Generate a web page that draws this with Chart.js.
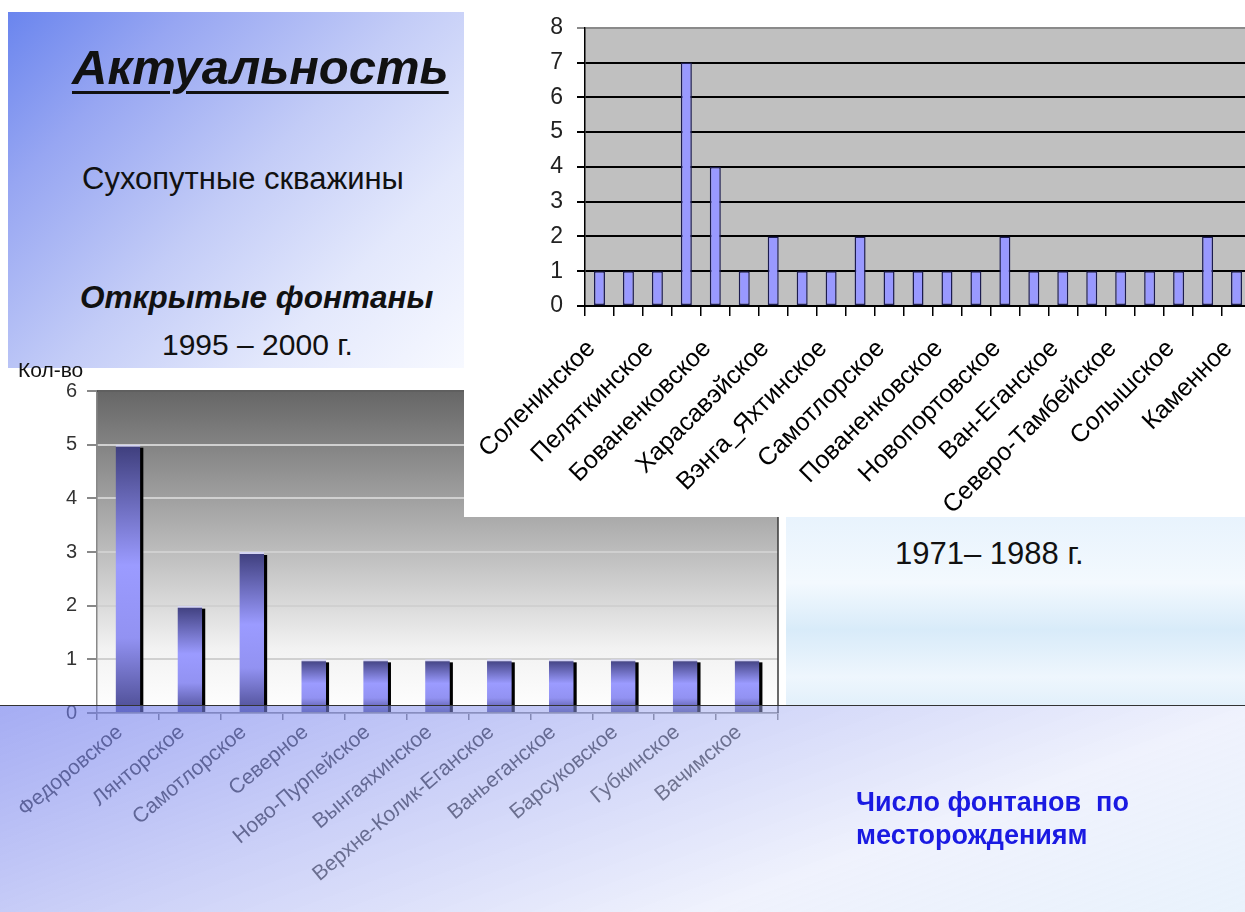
<!DOCTYPE html>
<html>
<head>
<meta charset="utf-8">
<script src="https://cdn.jsdelivr.net/npm/chart.js@4.4.1/dist/chart.umd.min.js"></script>
<style>
  html, body { margin: 0; padding: 0; width: 1245px; height: 912px; overflow: hidden; background: #fff; font-family: 'Liberation Sans', Arial, sans-serif; }
  .abs { position: absolute; }
  #intro { left: 8px; top: 12px; width: 456px; height: 356px; background: linear-gradient(135deg, #6a85ee 0%, #97a6f2 22%, #c3ccf7 50%, #e3e8fc 75%, #f7f9ff 100%); }
  .t { position: absolute; white-space: nowrap; line-height: 1; color: #111; }
  #panel { left: 786px; top: 517px; width: 459px; height: 188px; background: linear-gradient(180deg, #e8f3fd 0%, #f3f9fe 35%, #d8ebf9 60%, #eef6fd 85%, #e2f0fb 100%); }
  #bottomBox { left: 0; top: 368px; width: 786px; height: 544px; background: #fff; }
  #topBox { left: 464px; top: 0; width: 781px; height: 517px; background: #fff; overflow: hidden; }
  #band { left: 0; top: 705px; width: 1245px; height: 207px; border-top: 1.5px solid #333; box-sizing: border-box;
          background: linear-gradient(160deg, rgba(110,122,236,0.62) 0%, rgba(150,160,240,0.5) 35%, rgba(220,226,250,0.45) 70%, rgba(215,232,250,0.55) 100%); }
</style>
</head>
<body>
<div id="intro" class="abs">
  <div class="t" style="left:64px; top:31px; font-size:49px; font-weight:bold; font-style:italic; text-decoration:underline; text-decoration-thickness:3px; text-underline-offset:7px;">Актуальность</div>
  <div class="t" style="left:74px; top:151px; font-size:31px;">Сухопутные скважины</div>
  <div class="t" style="left:72px; top:270px; font-size:31.5px; font-weight:bold; font-style:italic;">Открытые фонтаны</div>
  <div class="t" style="left:154px; top:318px; font-size:30px;">1995 – 2000 г.</div>
</div>
<div id="panel" class="abs">
  <div class="t" style="left:109px; top:21px; font-size:31px;">1971– 1988 г.</div>
</div>
<div id="bottomBox" class="abs"><canvas id="chartBottom" width="786" height="544"></canvas></div>
<div id="topBox" class="abs"><canvas id="chartTop" width="812" height="517"></canvas></div>
<div class="t" style="left:18px; top:359px; font-size:21px; z-index:5;">Кол-во</div>
<div id="band" class="abs"></div>
<div class="t" style="left:856px; top:786px; font-size:27px; font-weight:bold; color:#1a1ae2; line-height:33px; z-index:6;">Число фонтанов&nbsp; по<br>месторождениям</div>

<script>
// 1971-1988: gushers by field (only every other name is printed on the slide)
const topFields = ['Соленинское', '', 'Пеляткинское', '', 'Бованенковское', '', 'Харасавэйское', '',
  'Вэнга_Яхтинское', '', 'Самотлорское', '', 'Пованенковское', '', 'Новопортовское', '',
  'Ван-Еганское', '', 'Северо-Тамбейское', '', 'Солышское', '', 'Каменное'];
const topCounts = [1, 1, 1, 7, 4, 1, 2, 1, 1, 2, 1, 1, 1, 1, 2, 1, 1, 1, 1, 1, 1, 2, 1];
const topMax = 8;

// 1995-2000
const bottomFields = ['Федоровское', 'Лянторское', 'Самотлорское', 'Северное', 'Ново-Пурпейское',
  'Вынгаяхинское', 'Верхне-Колик-Еганское', 'Ваньеганское', 'Барсуковское', 'Губкинское', 'Вачимское'];
const bottomCounts = [5, 2, 3, 1, 1, 1, 1, 1, 1, 1, 1];
const bottomMax = 6;

const FONT = "'Liberation Sans', Arial, sans-serif";

// plot area fill
const plotBg = {
  id: 'plotBg',
  beforeDraw(chart, args, opts) {
    const a = chart.chartArea, c = chart.ctx;
    c.save();
    if (opts.gradient) {
      const g = c.createLinearGradient(0, a.top, 0, a.bottom);
      g.addColorStop(0, '#666666');
      g.addColorStop(0.45, '#b4b4b4');
      g.addColorStop(0.8, '#f2f2f2');
      g.addColorStop(1, '#ffffff');
      c.fillStyle = g;
    } else {
      c.fillStyle = opts.color || '#c0c0c0';
    }
    c.fillRect(a.left, a.top, a.right - a.left, a.bottom - a.top);
    c.restore();
  },
  afterDraw(chart, args, opts) {
    if (!opts.frame) return;
    const a = chart.chartArea, c = chart.ctx;
    c.save();
    c.strokeStyle = opts.frame;
    c.lineWidth = 1.5;
    c.beginPath();
    c.moveTo(a.left, a.top);
    c.lineTo(a.right, a.top);
    c.lineTo(a.right, a.bottom);
    c.stroke();
    c.restore();
  }
};

// hard black shadow on the right of each bar of the lower chart
const barShadow = {
  id: 'barShadow',
  beforeDatasetsDraw(chart, args, opts) {
    if (!opts.on) return;
    const c = chart.ctx;
    const meta = chart.getDatasetMeta(0);
    c.save();
    c.fillStyle = '#000';
    meta.data.forEach(bar => {
      const p = bar.getProps(['x', 'y', 'width', 'base'], true);
      c.fillRect(p.x + p.width / 2 - 1, p.y + 3, 4, p.base - p.y - 3);
    });
    c.restore();
  }
};

new Chart(document.getElementById('chartTop'), {
  type: 'bar',
  data: {
    labels: topFields,
    datasets: [{
      data: topCounts,
      backgroundColor: '#9999ff',
      borderColor: '#1c1c50',
      borderWidth: 1.5,
      borderSkipped: false,
      barPercentage: 0.38,
      categoryPercentage: 1
    }]
  },
  options: {
    responsive: false,
    animation: false,
    devicePixelRatio: 1,
    layout: { padding: { top: 27, right: 12, left: 0, bottom: 0 } },
    plugins: {
      legend: { display: false },
      tooltip: { enabled: false },
      plotBg: { color: '#c0c0c0' },
      barShadow: { on: false }
    },
    scales: {
      x: {
        afterFit(scale) { scale.height = 211; },
        border: { display: true, color: '#000', width: 2 },
        grid: { offset: true, drawOnChartArea: false, color: '#000', lineWidth: 1.5, tickLength: 10 },
        ticks: {
          autoSkip: false, maxRotation: 45, minRotation: 45,
          color: '#000', padding: 18, labelOffset: -8,
          font: { family: FONT, size: 25 }
        }
      },
      y: {
        min: 0, max: topMax,
        afterFit(scale) { scale.width = 121; },
        border: { display: true, color: '#000', width: 1.5 },
        grid: {
          color: (ctx) => ctx.tick && ctx.tick.value === topMax ? '#8a8a8a' : '#000',
          lineWidth: 2, tickLength: 8
        },
        ticks: { stepSize: 1, color: '#222', padding: 14, font: { family: FONT, size: 23 } }
      }
    }
  },
  plugins: [plotBg, barShadow]
});

new Chart(document.getElementById('chartBottom'), {
  type: 'bar',
  data: {
    labels: bottomFields,
    datasets: [{
      data: bottomCounts,
      backgroundColor(ctx) {
        const chart = ctx.chart;
        if (!chart.chartArea) return '#9999ff';
        const y = chart.scales.y;
        const top = y.getPixelForValue(ctx.raw), base = y.getPixelForValue(0);
        const g = chart.ctx.createLinearGradient(0, top, 0, base);
        g.addColorStop(0, '#3e3e7c');
        g.addColorStop(0.45, '#9b9bff');
        g.addColorStop(0.72, '#9292f2');
        g.addColorStop(1, '#4c4c92');
        return g;
      },
      borderColor: '#d4d4f4',
      borderWidth: { top: 2, left: 0, right: 0, bottom: 0 },
      borderSkipped: false,
      barPercentage: 0.4,
      categoryPercentage: 1
    }]
  },
  options: {
    responsive: false,
    animation: false,
    devicePixelRatio: 1,
    layout: { padding: { top: 23, right: 8, left: 0, bottom: 0 } },
    plugins: {
      legend: { display: false },
      tooltip: { enabled: false },
      plotBg: { gradient: true, frame: '#3a3a3a' },
      barShadow: { on: true }
    },
    scales: {
      x: {
        afterFit(scale) { scale.height = 199; },
        border: { display: true, color: '#888', width: 1.5 },
        grid: { offset: true, drawOnChartArea: false, color: '#777', lineWidth: 1.5, tickLength: 7 },
        ticks: {
          autoSkip: false, maxRotation: 40, minRotation: 40,
          color: '#333', padding: 0, labelOffset: -8,
          font: { family: FONT, size: 21 }
        }
      },
      y: {
        min: 0, max: bottomMax,
        afterFit(scale) { scale.width = 97; },
        border: { display: true, color: '#888', width: 1.5 },
        grid: { color: '#d0d0d0', lineWidth: 2, tickLength: 10, tickColor: '#888' },
        ticks: { stepSize: 1, color: '#333', padding: 10, font: { family: FONT, size: 20 } }
      }
    }
  },
  plugins: [plotBg, barShadow]
});
</script>
</body>
</html>
